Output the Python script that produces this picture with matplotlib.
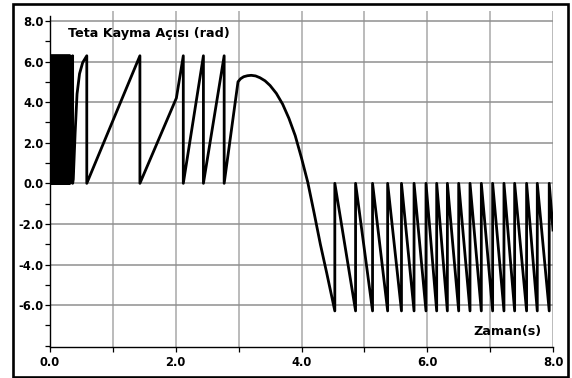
import numpy as np
import matplotlib
matplotlib.use('Agg')
import matplotlib.pyplot as plt
from matplotlib.patches import Rectangle
from matplotlib.ticker import MultipleLocator, FormatStrFormatter

TWO_PI = 2 * np.pi

# wrap instants (s) of the fast spin-up, angle climbs 0 -> 2pi between them
spin_wraps = [0.0, 0.016, 0.032, 0.048, 0.064, 0.080, 0.096, 0.112, 0.128,
              0.144, 0.160, 0.176, 0.192, 0.208, 0.224, 0.240, 0.256, 0.272,
              0.288, 0.304, 0.320, 0.360]

# middle part read point by point
mid_time = [0.36, 0.37, 0.40, 0.43, 0.47, 0.52, 0.585, 0.585, 1.43, 1.43,
            2.01, 2.12, 2.12, 2.44, 2.44, 2.77, 2.77, 2.99, 3.03, 3.08,
            3.14, 3.20, 3.27, 3.34, 3.42, 3.50, 3.60, 3.70, 3.80, 3.90,
            4.00, 4.10, 4.20, 4.30, 4.40, 4.53]
mid_angle = [0.0, 0.2, 2.5, 4.4, 5.4, 5.95, TWO_PI, 0.0, TWO_PI, 0.0,
             4.2, TWO_PI, 0.0, TWO_PI, 0.0, TWO_PI, 0.0, 5.0, 5.15, 5.25,
             5.30, 5.32, 5.29, 5.20, 5.05, 4.82, 4.43, 3.90, 3.20, 2.35,
             1.25, 0.05, -1.45, -3.0, -4.4, -TWO_PI]

# wrap instants (s) of the reverse slip, angle falls 0 -> -2pi between them
neg_wraps = [4.53, 4.86, 5.13, 5.37, 5.59, 5.79, 5.98, 6.15, 6.32, 6.50,
             6.68, 6.86, 7.04, 7.22, 7.39, 7.58, 7.75, 7.94]
end_time = 8.0
end_angle = -2.3

x_ticks = [0, 2, 4, 6, 8]
y_ticks = [-6, -4, -2, 0, 2, 4, 6, 8]

# build the polyline
t = []
a = []
for t0, t1 in zip(spin_wraps[:-1], spin_wraps[1:]):
    t += [t0, t1]
    a += [0.0, TWO_PI]
t += mid_time
a += mid_angle
for t0, t1 in zip(neg_wraps[:-1], neg_wraps[1:]):
    t += [t0, t1]
    a += [0.0, -TWO_PI]
t += [neg_wraps[-1], end_time]
a += [0.0, end_angle]

plt.rcParams['axes.unicode_minus'] = False
plt.rcParams['font.family'] = 'DejaVu Sans'

fig = plt.figure(figsize=(5.72, 3.78), dpi=100)
ax = fig.add_axes([50 / 572, 31 / 378, 503 / 572, 336.25 / 378])

ax.set_xlim(0, 8)
ax.set_ylim(-8.06, 8.5)

# grid: vertical every second, horizontal on labelled values
for xv in range(1, 9):
    ax.axvline(xv, color='#a8a8a8', lw=1.1, zorder=1)
for yv in y_ticks:
    ax.axhline(yv, color='#8f8f8f', lw=1.1, zorder=1)

ax.plot(t, a, color='black', lw=2.0, zorder=3)

ax.spines['top'].set_visible(False)
ax.spines['right'].set_visible(False)
ax.spines['left'].set_linewidth(1.0)
ax.spines['bottom'].set_linewidth(1.0)
ax.spines['left'].set_bounds(-8.06, 8.25)

ax.set_xticks(x_ticks)
ax.set_yticks(y_ticks)
ax.xaxis.set_minor_locator(MultipleLocator(1))
ax.yaxis.set_minor_locator(MultipleLocator(1))
ax.xaxis.set_major_formatter(FormatStrFormatter('%.1f'))
ax.yaxis.set_major_formatter(FormatStrFormatter('%.1f'))
ax.tick_params(axis='both', which='both', direction='out', length=3.6,
               width=0.9, color='black')
ax.tick_params(axis='x', which='major', pad=3)
ax.tick_params(axis='y', which='major', pad=1)
for lab in ax.get_xticklabels() + ax.get_yticklabels():
    lab.set_fontsize(8.3)
    lab.set_fontweight('bold')

fig.text(68 / 572, 1 - 33 / 378, 'Teta Kayma Açısı (rad)', fontsize=9.2,
         fontweight='bold', ha='left', va='center')
fig.text(542 / 572, 1 - 332 / 378, 'Zaman(s)', fontsize=9.2,
         fontweight='bold', ha='right', va='center')

# outer frame around the whole picture
fig.patches.append(Rectangle((12.5 / 572, 1.5 / 378), 555 / 572, 372.5 / 378,
                             transform=fig.transFigure, fill=False,
                             edgecolor='black', lw=1.9))

fig.savefig('out.png', dpi=100)
